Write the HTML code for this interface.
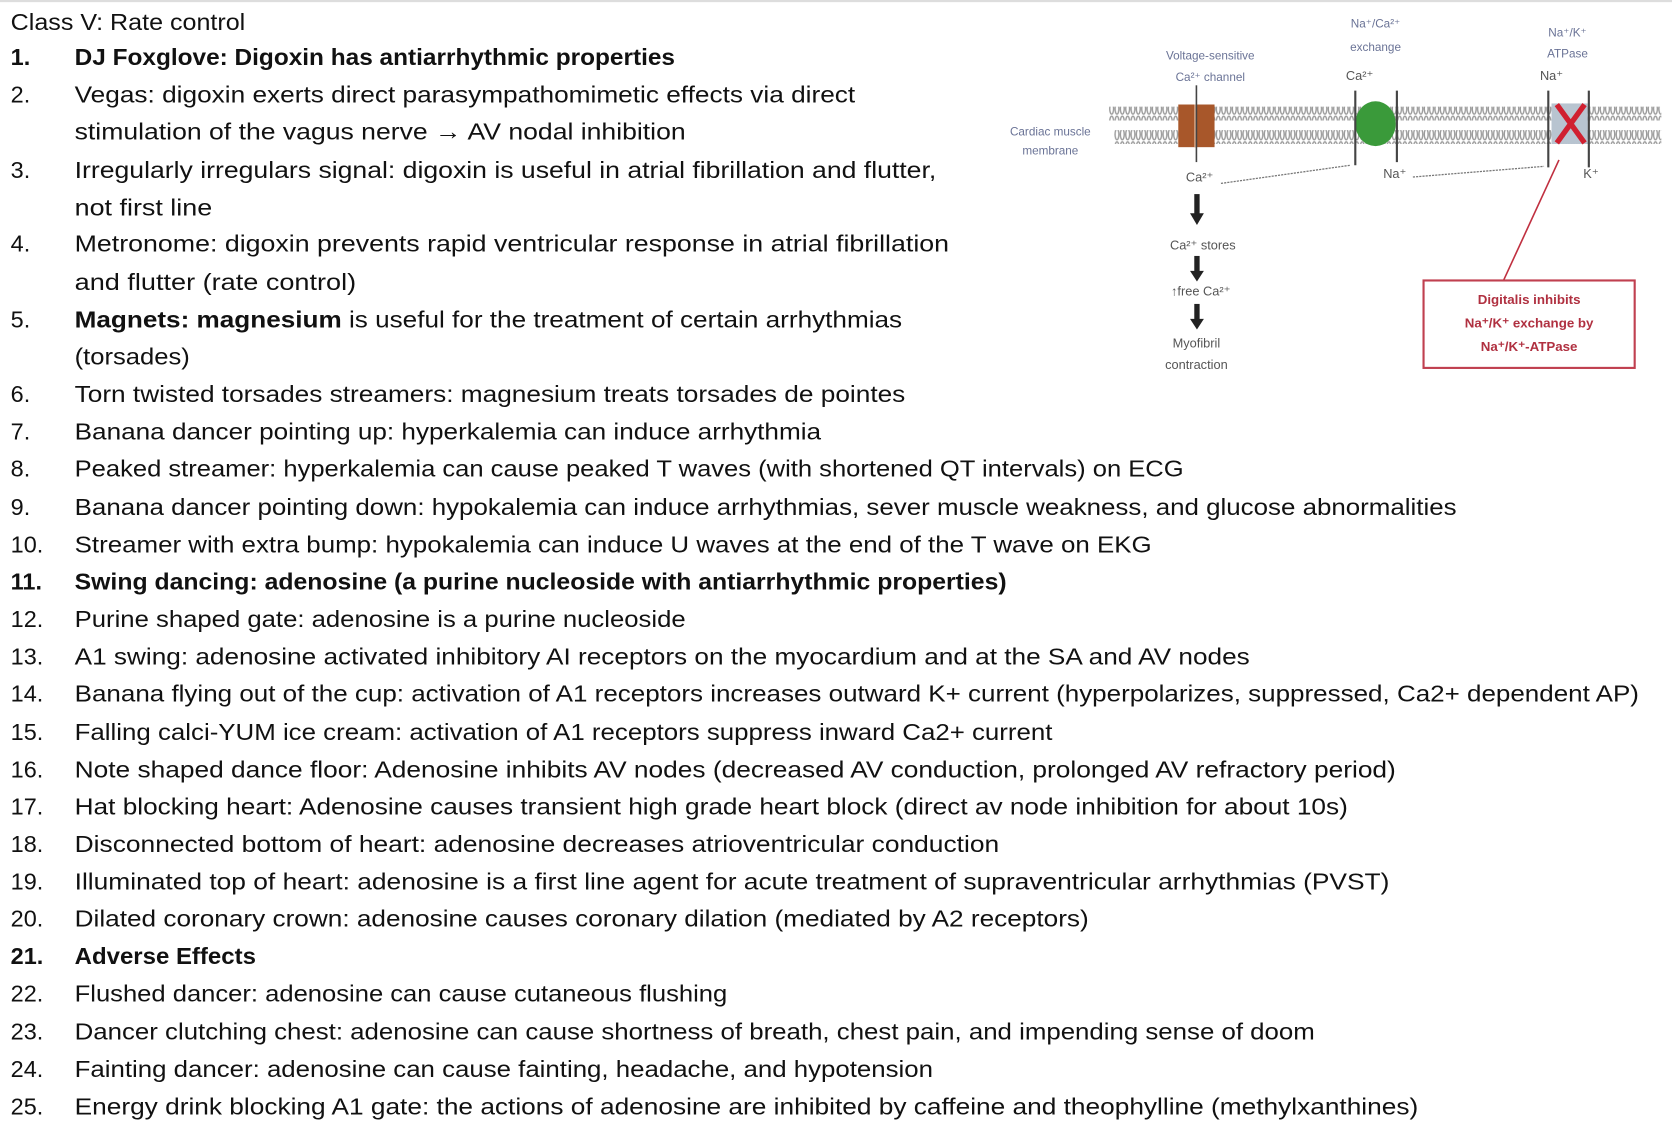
<!DOCTYPE html>
<html><head><meta charset="utf-8"><style>
html,body{margin:0;padding:0;background:#fff;width:1672px;height:1140px;overflow:hidden}
svg{display:block}
.t{font-family:"Liberation Sans",Arial,sans-serif;font-size:22px;fill:#111}
.b{font-weight:bold}
.s{font-family:"Liberation Sans",Arial,sans-serif;font-size:11px;fill:#6a7396}
.k{font-family:"Liberation Sans",Arial,sans-serif;font-size:12px;fill:#555}
.r{font-family:"Liberation Sans",Arial,sans-serif;font-size:12.5px;fill:#b03040;font-weight:bold}
</style></head><body>
<svg width="1672" height="1140" viewBox="0 0 1568 1069" preserveAspectRatio="none" xmlns="http://www.w3.org/2000/svg">
<defs>
<pattern id="lip" width="5" height="12" patternUnits="userSpaceOnUse">
<rect width="5" height="12" fill="#fff"/>
<ellipse cx="2.5" cy="6" rx="1.8" ry="5" fill="none" stroke="#9a9a9a" stroke-width="1.3"/>
</pattern>
</defs>
<rect x="0" y="0" width="1568" height="2" fill="#ddd"/>
<!-- text -->
<g class="t">
<text x="10" y="28" textLength="220" lengthAdjust="spacingAndGlyphs">Class V: Rate control</text>
<text x="10" y="61" class="t b">1.</text><text x="70" y="61" class="t b" textLength="563" lengthAdjust="spacingAndGlyphs">DJ Foxglove: Digoxin has antiarrhythmic properties</text>
<text x="10" y="96">2.</text><text x="70" y="96" textLength="732" lengthAdjust="spacingAndGlyphs">Vegas: digoxin exerts direct parasympathomimetic effects via direct</text>
<text x="70" y="131" textLength="573" lengthAdjust="spacingAndGlyphs">stimulation of the vagus nerve → AV nodal inhibition</text>
<text x="10" y="167">3.</text><text x="70" y="167" textLength="808" lengthAdjust="spacingAndGlyphs">Irregularly irregulars signal: digoxin is useful in atrial fibrillation and flutter,</text>
<text x="70" y="202" textLength="129" lengthAdjust="spacingAndGlyphs">not first line</text>
<text x="10" y="236">4.</text><text x="70" y="236" textLength="820" lengthAdjust="spacingAndGlyphs">Metronome: digoxin prevents rapid ventricular response in atrial fibrillation</text>
<text x="70" y="272" textLength="264" lengthAdjust="spacingAndGlyphs">and flutter (rate control)</text>
<text x="10" y="307">5.</text><text x="70" y="307" textLength="776" lengthAdjust="spacingAndGlyphs"><tspan class="b">Magnets: magnesium</tspan> is useful for the treatment of certain arrhythmias</text>
<text x="70" y="342" textLength="108" lengthAdjust="spacingAndGlyphs">(torsades)</text>
<text x="10" y="377">6.</text><text x="70" y="377" textLength="779" lengthAdjust="spacingAndGlyphs">Torn twisted torsades streamers: magnesium treats torsades de pointes</text>
<text x="10" y="412">7.</text><text x="70" y="412" textLength="700" lengthAdjust="spacingAndGlyphs">Banana dancer pointing up: hyperkalemia can induce arrhythmia</text>
<text x="10" y="447">8.</text><text x="70" y="447" textLength="1040" lengthAdjust="spacingAndGlyphs">Peaked streamer: hyperkalemia can cause peaked T waves (with shortened QT intervals) on ECG</text>
<text x="10" y="483">9.</text><text x="70" y="483" textLength="1296" lengthAdjust="spacingAndGlyphs">Banana dancer pointing down: hypokalemia can induce arrhythmias, sever muscle weakness, and glucose abnormalities</text>
<text x="10" y="518">10.</text><text x="70" y="518" textLength="1010" lengthAdjust="spacingAndGlyphs">Streamer with extra bump: hypokalemia can induce U waves at the end of the T wave on EKG</text>
<text x="10" y="553" class="t b">11.</text><text x="70" y="553" class="t b" textLength="874" lengthAdjust="spacingAndGlyphs">Swing dancing: adenosine (a purine nucleoside with antiarrhythmic properties)</text>
<text x="10" y="588">12.</text><text x="70" y="588" textLength="573" lengthAdjust="spacingAndGlyphs">Purine shaped gate: adenosine is a purine nucleoside</text>
<text x="10" y="623">13.</text><text x="70" y="623" textLength="1102" lengthAdjust="spacingAndGlyphs">A1 swing: adenosine activated inhibitory AI receptors on the myocardium and at the SA and AV nodes</text>
<text x="10" y="658">14.</text><text x="70" y="658" textLength="1467" lengthAdjust="spacingAndGlyphs">Banana flying out of the cup: activation of A1 receptors increases outward K+ current (hyperpolarizes, suppressed, Ca2+ dependent AP)</text>
<text x="10" y="694">15.</text><text x="70" y="694" textLength="917" lengthAdjust="spacingAndGlyphs">Falling calci-YUM ice cream: activation of A1 receptors suppress inward Ca2+ current</text>
<text x="10" y="729">16.</text><text x="70" y="729" textLength="1239" lengthAdjust="spacingAndGlyphs">Note shaped dance floor: Adenosine inhibits AV nodes (decreased AV conduction, prolonged AV refractory period)</text>
<text x="10" y="764">17.</text><text x="70" y="764" textLength="1194" lengthAdjust="spacingAndGlyphs">Hat blocking heart: Adenosine causes transient high grade heart block (direct av node inhibition for about 10s)</text>
<text x="10" y="799">18.</text><text x="70" y="799" textLength="867" lengthAdjust="spacingAndGlyphs">Disconnected bottom of heart: adenosine decreases atrioventricular conduction</text>
<text x="10" y="834">19.</text><text x="70" y="834" textLength="1233" lengthAdjust="spacingAndGlyphs">Illuminated top of heart: adenosine is a first line agent for acute treatment of supraventricular arrhythmias (PVST)</text>
<text x="10" y="869">20.</text><text x="70" y="869" textLength="951" lengthAdjust="spacingAndGlyphs">Dilated coronary crown: adenosine causes coronary dilation (mediated by A2 receptors)</text>
<text x="10" y="904" class="t b">21.</text><text x="70" y="904" class="t b" textLength="170" lengthAdjust="spacingAndGlyphs">Adverse Effects</text>
<text x="10" y="939">22.</text><text x="70" y="939" textLength="612" lengthAdjust="spacingAndGlyphs">Flushed dancer: adenosine can cause cutaneous flushing</text>
<text x="10" y="975">23.</text><text x="70" y="975" textLength="1163" lengthAdjust="spacingAndGlyphs">Dancer clutching chest: adenosine can cause shortness of breath, chest pain, and impending sense of doom</text>
<text x="10" y="1010">24.</text><text x="70" y="1010" textLength="805" lengthAdjust="spacingAndGlyphs">Fainting dancer: adenosine can cause fainting, headache, and hypotension</text>
<text x="10" y="1045">25.</text><text x="70" y="1045" textLength="1260" lengthAdjust="spacingAndGlyphs">Energy drink blocking A1 gate: the actions of adenosine are inhibited by caffeine and theophylline (methylxanthines)</text>
</g>
<!-- diagram -->
<rect x="1040" y="100" width="518" height="13" fill="url(#lip)"/>
<rect x="1045" y="122" width="513" height="13" fill="url(#lip)"/>
<text class="s" x="985" y="127" text-anchor="middle">Cardiac muscle</text>
<text class="s" x="985" y="145" text-anchor="middle">membrane</text>
<text class="s" x="1135" y="56" text-anchor="middle">Voltage-sensitive</text>
<text class="s" x="1135" y="76" text-anchor="middle">Ca²⁺ channel</text>
<text class="s" x="1290" y="26" text-anchor="middle">Na⁺/Ca²⁺</text>
<text class="s" x="1290" y="48" text-anchor="middle">exchange</text>
<text class="s" x="1470" y="34" text-anchor="middle">Na⁺/K⁺</text>
<text class="s" x="1470" y="54" text-anchor="middle">ATPase</text>
<text class="k" x="1275" y="75" text-anchor="middle">Ca²⁺</text>
<text class="k" x="1455" y="75" text-anchor="middle">Na⁺</text>
<rect x="1105" y="98" width="34" height="40" fill="#a8572a"/>
<line x1="1121" y1="98" x2="1121" y2="138" stroke="#e0b090" stroke-width="2"/>
<line x1="1122" y1="80" x2="1122" y2="152" stroke="#444" stroke-width="1.5"/>
<ellipse cx="1290" cy="116" rx="19" ry="21" fill="#3a9a3a"/>
<line x1="1271" y1="85" x2="1271" y2="155" stroke="#444" stroke-width="2"/>
<line x1="1310" y1="85" x2="1310" y2="152" stroke="#444" stroke-width="2"/>
<rect x="1455" y="97" width="34" height="38" fill="#b8c4d0"/>
<path d="M1460 98 L1486 134 M1486 98 L1460 134" stroke="#d02030" stroke-width="5"/>
<line x1="1452" y1="85" x2="1452" y2="157" stroke="#444" stroke-width="2"/>
<line x1="1490" y1="85" x2="1490" y2="157" stroke="#444" stroke-width="2"/>
<text class="k" x="1125" y="170" text-anchor="middle">Ca²⁺</text>
<text class="k" x="1308" y="167" text-anchor="middle">Na⁺</text>
<text class="k" x="1492" y="167" text-anchor="middle">K⁺</text>
<line x1="1145" y1="172" x2="1266" y2="155" stroke="#777" stroke-width="1.2" stroke-dasharray="2 1"/>
<line x1="1325" y1="166" x2="1448" y2="156" stroke="#777" stroke-width="1.2" stroke-dasharray="2 1"/>
<g fill="#222">
<rect x="1120" y="182" width="5" height="20"/><path d="M1116 200 L1129 200 L1122.5 211 Z"/>
<rect x="1120" y="240" width="5" height="16"/><path d="M1116 254 L1129 254 L1122.5 264 Z"/>
<rect x="1120" y="285" width="5" height="16"/><path d="M1116 299 L1129 299 L1122.5 309 Z"/>
</g>
<text class="k" x="1128" y="234" text-anchor="middle">Ca²⁺ stores</text>
<text class="k" x="1126" y="277" text-anchor="middle">↑free Ca²⁺</text>
<text class="k" x="1122" y="326" text-anchor="middle">Myofibril</text>
<text class="k" x="1122" y="346" text-anchor="middle">contraction</text>
<line x1="1410" y1="263" x2="1462" y2="150" stroke="#c03040" stroke-width="1.5"/>
<rect x="1335" y="263" width="198" height="82" fill="#fff" stroke="#c04050" stroke-width="2"/>
<text class="r" x="1434" y="285" text-anchor="middle">Digitalis inhibits</text>
<text class="r" x="1434" y="307" text-anchor="middle">Na⁺/K⁺ exchange by</text>
<text class="r" x="1434" y="329" text-anchor="middle">Na⁺/K⁺-ATPase</text>
</svg>
</body></html>
